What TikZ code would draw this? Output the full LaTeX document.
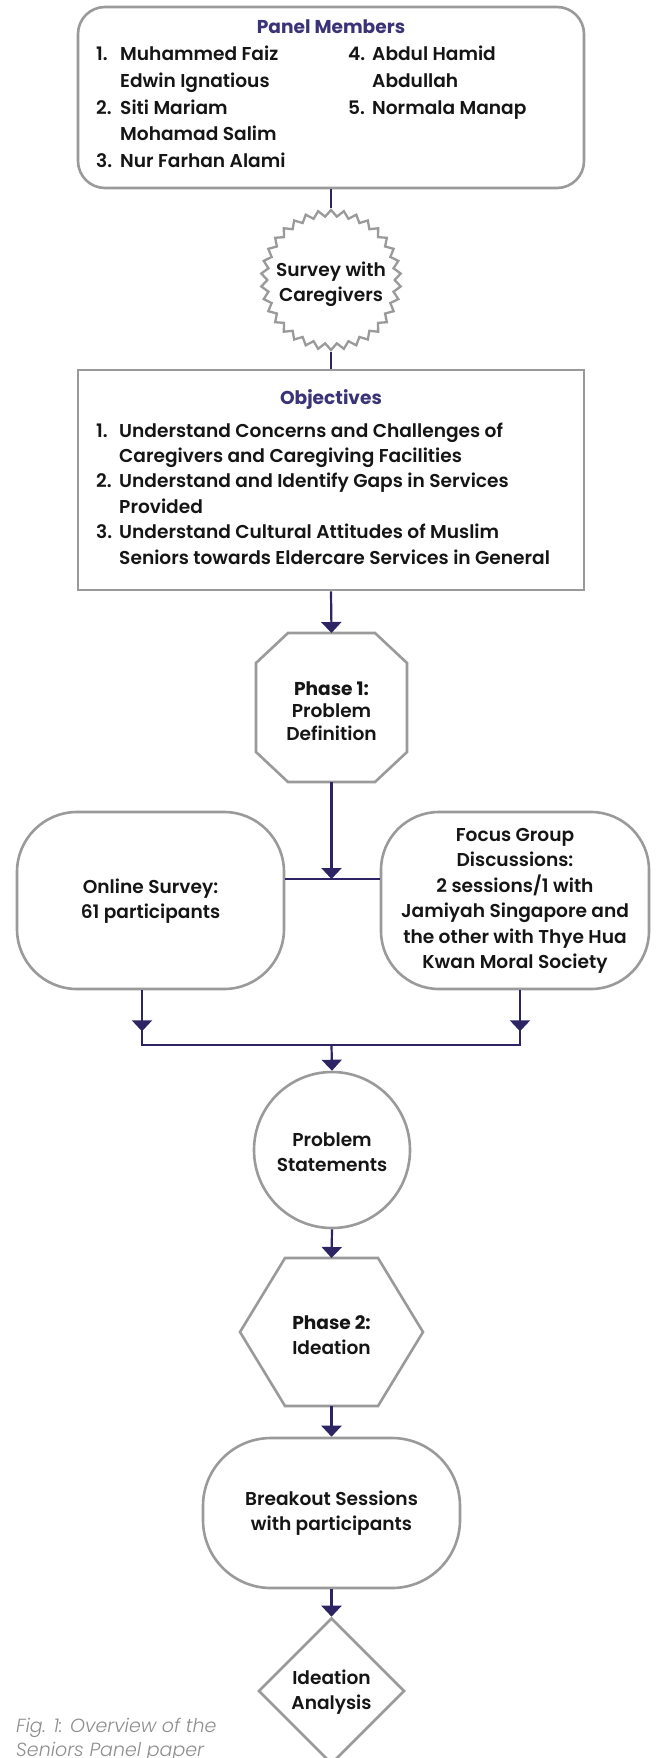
\documentclass[tikz,border=0pt]{standalone}
\usepackage{fontspec}
\setmainfont{Poppins}[UprightFont=* SemiBold, BoldFont=* Bold, ItalicFont=* Light Italic]
\usetikzlibrary{arrows.meta,shapes.geometric}
\definecolor{boxgray}{HTML}{9A9A9A}
\definecolor{linec}{HTML}{2D2463}
\definecolor{titlec}{HTML}{3A3377}
\definecolor{capgray}{HTML}{8E8E8E}
\definecolor{inkc}{HTML}{151515}
\begin{document}
\begin{tikzpicture}[x=1pt,y=-1pt,
  gbox/.style={draw=boxgray,line width=2.6pt,fill=white,inner sep=0pt},
  ghost/.style={inner sep=0pt,outer sep=0pt},
  boxline/.style={draw=boxgray,line width=2.6pt,fill=white,line join=miter},
  conn/.style={draw=linec,line width=2.2pt},
  arr/.style={conn,-{Triangle[width=20pt,length=11pt]}},
  txt/.style={font=\fontsize{18.6}{25.5}\selectfont,text=inkc,inner sep=0pt,align=center},
  ltxt/.style={font=\fontsize{18.6}{25.5}\selectfont,text=inkc,inner sep=0pt,anchor=base west},
  ttl/.style={font=\bfseries\fontsize{18.6}{25.5}\selectfont,text=titlec,inner sep=0pt,anchor=base},
  captxt/.style={font=\itshape\fontsize{19}{24}\selectfont,text=capgray,inner sep=0pt,anchor=base west},
]
\useasboundingbox (0,0) rectangle (656,1758);

% ---------- Panel members
\node[gbox,rounded corners=27pt,minimum width=506pt,minimum height=181pt] (panel) at (331,97.5) {};
\node[ttl] (ptitle) at (331,34) {Panel Members};
\node[ltxt] (p1n) at (96,61) {1.};
\node[ltxt] (p1a) at (120,61) {Muhammed Faiz};
\node[ltxt] (p1b) at (120,87.5) {Edwin Ignatious};
\node[ltxt] (p2n) at (96,114) {2.};
\node[ltxt] (p2a) at (120,114) {Siti Mariam};
\node[ltxt] (p2b) at (120,140.5) {Mohamad Salim};
\node[ltxt] (p3n) at (96,167) {3.};
\node[ltxt] (p3a) at (120,167) {Nur Farhan Alami};
\node[ltxt] (p4n) at (348,61) {4.};
\node[ltxt] (p4a) at (372,61) {Abdul Hamid};
\node[ltxt] (p4b) at (372,87.5) {Abdullah};
\node[ltxt] (p5n) at (348,114) {5.};
\node[ltxt] (p5a) at (372,114) {Normala Manap};

% ---------- Survey starburst
\node[star,star points=34,star point ratio=1.1,minimum size=140pt,inner sep=0pt,
      draw=boxgray,line width=2.3pt,fill=white] (sb) at (331,280) {};
\draw[conn] (panel.south) -- (sb.north);
\node[txt] (sbt) at (331,284) {Survey with\\Caregivers};

% ---------- Objectives
\node[gbox,minimum width=506pt,minimum height=220pt] (obj) at (331,480) {};
\draw[conn] (sb.south) -- (obj.north);
\node[ttl] (otitle) at (331,404) {Objectives};
\node[ltxt] (o1n) at (96,437) {1.};
\node[ltxt] (o1a) at (119,437) {Understand Concerns and Challenges of};
\node[ltxt] (o1b) at (119,462.4) {Caregivers and Caregiving Facilities};
\node[ltxt] (o2n) at (96,487.8) {2.};
\node[ltxt] (o2a) at (119,487.8) {Understand and Identify Gaps in Services};
\node[ltxt] (o2b) at (119,513.2) {Provided};
\node[ltxt] (o3n) at (96,538.6) {3.};
\node[ltxt] (o3a) at (119,538.6) {Understand Cultural Attitudes of Muslim};
\node[ltxt] (o3b) at (119,564) {Seniors towards Eldercare Services in General};

% ---------- Phase 1 octagon
\node[ghost,minimum width=151pt,minimum height=149pt] (oct) at (331.5,707.5) {};
\draw[boxline] ([xshift=32pt]oct.north west) -- ([xshift=-32pt]oct.north east)
  -- ([yshift=-30pt]oct.north east) -- ([yshift=30pt]oct.south east)
  -- ([xshift=-32pt]oct.south east) -- ([xshift=32pt]oct.south west)
  -- ([yshift=30pt]oct.south west) -- ([yshift=-30pt]oct.north west) -- cycle;
\node[txt,font=\fontsize{18.6}{22.5}\selectfont] (octt) at (331.5,711) {\textbf{Phase 1:}\\Problem\\Definition};
\draw[arr] (obj.south) -- (oct.north);

% ---------- Online survey / focus groups
\node[gbox,rounded corners=60pt,minimum width=267pt,minimum height=177pt] (os) at (150.5,900.5) {};
\node[gbox,rounded corners=58pt,minimum width=268pt,minimum height=177pt] (fg) at (515,900.5) {};
\node[txt] (ost) at (150.5,901) {Online Survey:\\61 participants};
\node[txt] (fgt) at (515,901) {Focus Group\\Discussions:\\2 sessions/1 with\\Jamiyah Singapore and\\the other with Thye Hua\\Kwan Moral Society};
\coordinate (join1) at (331.5,879);
\draw[conn] (os.east |- join1) -- (fg.west |- join1);
\draw[arr] (oct.south) -- (join1);

\coordinate (join2) at (331.5,1045);
\draw[conn] ([xshift=-8.5pt]os.south) |- (join2) -| ([xshift=5pt]fg.south);
\draw[arr] ([xshift=-8.5pt]os.south) -- ++(0,41);
\draw[arr] ([xshift=5pt]fg.south) -- ++(0,41);

% ---------- Problem statements
\node[gbox,circle,minimum size=156pt] (ps) at (332,1150) {};
\node[txt] (pst) at (332,1152) {Problem\\Statements};
\draw[arr] (join2) -- (ps.north);

% ---------- Phase 2 hexagon
\node[ghost,minimum width=183pt,minimum height=148pt] (hex) at (331.5,1332) {};
\draw[boxline] (hex.west) -- ([xshift=45pt]hex.north west) -- ([xshift=-45pt]hex.north east)
  -- (hex.east) -- ([xshift=-45pt]hex.south east) -- ([xshift=45pt]hex.south west) -- cycle;
\node[txt] (hext) at (331.5,1335) {\textbf{Phase 2:}\\Ideation};
\draw[arr] (ps.south) -- (hex.north);

% ---------- Breakout sessions
\node[gbox,rounded corners=68pt,minimum width=257pt,minimum height=150pt] (bo) at (331.5,1513) {};
\node[txt] (bot) at (331.5,1513) {Breakout Sessions\\with participants};
\draw[arr] (hex.south) -- (bo.north);

% ---------- Ideation analysis
\node[gbox,diamond,aspect=1,minimum width=146pt,minimum height=146pt] (ia) at (331.5,1691) {};
\node[txt] (iat) at (331.5,1692) {Ideation\\Analysis};
\draw[arr] (bo.south) -- (ia.north);

% ---------- Caption
\node[captxt] (cap1) at (16,1732) {Fig. 1: Overview of the};
\node[captxt] (cap2) at (16,1756) {Seniors Panel paper};
\end{tikzpicture}
\end{document}
